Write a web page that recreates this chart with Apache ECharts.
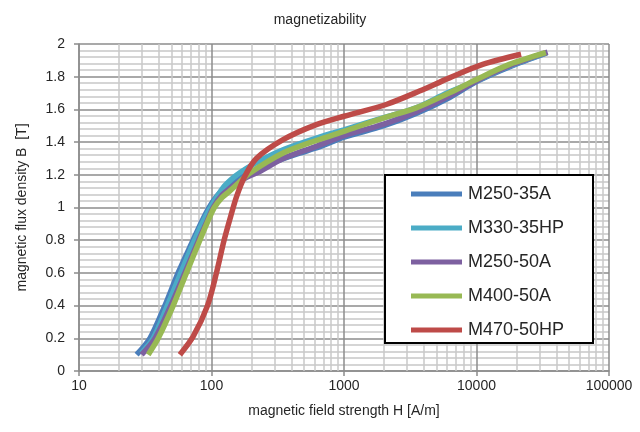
<!DOCTYPE html>
<html>
<head>
<meta charset="utf-8">
<script src="https://cdn.jsdelivr.net/npm/echarts@6/dist/echarts.min.js"></script>
<style>
  html, body { margin: 0; padding: 0; background: #fff; }
  #chart { width: 640px; height: 432px; }
</style>
</head>
<body>
<div id="chart"></div>
<script>
// B-H magnetization curves of electrical steel grades: [H in A/m, B in T]
const seriesNames = ['M250-35A', 'M330-35HP', 'M250-50A', 'M400-50A', 'M470-50HP'];

const m250_35A = [
  [27.2, 0.10], [34.3, 0.20], [44.5, 0.40], [56, 0.60], [72.6, 0.80], [84, 0.91],
  [96, 1.00], [110, 1.07], [130, 1.13], [160, 1.18], [200, 1.22], [300, 1.28],
  [450, 1.33], [650, 1.37], [1000, 1.43], [2000, 1.50], [3500, 1.575], [6000, 1.665],
  [10000, 1.77], [17700, 1.86], [34000, 1.945]
];
const m330_35HP = [
  [29.5, 0.11], [36.3, 0.20], [46.5, 0.40], [58.7, 0.60], [74.6, 0.80], [86.5, 0.914],
  [100, 1.01], [122, 1.12], [150, 1.19], [184, 1.24], [250, 1.30], [350, 1.355],
  [620, 1.425], [1000, 1.475], [2000, 1.55], [3500, 1.61], [6000, 1.70], [10000, 1.775],
  [17700, 1.865], [32000, 1.94]
];
const m250_50A = [
  [29.7, 0.10], [37.5, 0.20], [49.3, 0.40], [63, 0.60], [80, 0.80], [92, 0.91],
  [103, 1.00], [120, 1.075], [145, 1.13], [180, 1.18], [231, 1.22], [347, 1.30],
  [618, 1.374], [1000, 1.44], [2000, 1.51], [3500, 1.585], [6000, 1.675], [10000, 1.775],
  [17700, 1.867], [34400, 1.95]
];
const m400_50A = [
  [33.3, 0.10], [39.6, 0.20], [51.4, 0.40], [64.7, 0.60], [81.7, 0.80], [92, 0.90],
  [105, 1.00], [120, 1.06], [137, 1.10], [160, 1.15], [194, 1.21], [347, 1.333],
  [618, 1.41], [1000, 1.466], [2000, 1.548], [3500, 1.609], [6250, 1.701], [10000, 1.783],
  [17700, 1.875], [33400, 1.947]
];
const m470_50HP = [
  [57.7, 0.10], [72.6, 0.21], [93.3, 0.40], [109, 0.60], [124.5, 0.80], [140, 0.95],
  [155, 1.07], [178, 1.19], [218, 1.30], [347, 1.415], [618, 1.507], [1000, 1.558],
  [2080, 1.63], [3715, 1.712], [6250, 1.793], [11140, 1.875], [21700, 1.937]
];

const seriesData = [m250_35A, m330_35HP, m250_50A, m400_50A, m470_50HP];
const seriesColors = ['#4A7EBB', '#4BACC6', '#7D60A0', '#98B954', '#BE4B48'];

// Intermediate grid values of the logarithmic H axis (2..9 per decade)
const decadeStarts = [10, 100, 1000, 10000];
const minorHValues = [];
decadeStarts.forEach(d => { for (let k = 2; k <= 9; k++) minorHValues.push(d * k); });

const FONT = '"Liberation Sans", Arial, sans-serif';
const TEXT = '#262626';
const MAJOR_GRID = '#8C8C8C';
const MINOR_GRID = '#C8C8C8';

const chart = echarts.init(document.getElementById('chart'), null, { renderer: 'canvas' });

const lineSeries = seriesNames.map((name, i) => ({
  name: name,
  type: 'line',
  data: seriesData[i],
  smooth: 0.3,
  symbol: 'none',
  showSymbol: false,
  z: 3,
  lineStyle: { color: seriesColors[i], width: 5.5 },
  itemStyle: { color: seriesColors[i] },
  emphasis: { disabled: true },
  animation: false
}));

// Light vertical lines at the in-between decade values, kept below the curves
lineSeries.unshift({
  name: 'minor-grid',
  type: 'line',
  data: [],
  z: 1,
  silent: true,
  animation: false,
  markLine: {
    z: 1,
    silent: true,
    symbol: 'none',
    animation: false,
    label: { show: false },
    lineStyle: { color: MINOR_GRID, width: 1.5, type: 'solid' },
    emphasis: { disabled: true },
    data: minorHValues.map(v => ({ xAxis: v }))
  }
});

chart.setOption({
  animation: false,
  backgroundColor: '#ffffff',
  title: {
    text: 'magnetizability',
    left: 'center',
    top: 8,
    textStyle: { fontFamily: FONT, fontSize: 14, fontWeight: 'normal', color: TEXT }
  },
  grid: { left: 79, right: 31, top: 44, bottom: 61, containLabel: false },
  xAxis: {
    type: 'log',
    logBase: 10,
    min: 10,
    max: 100000,
    name: 'magnetic field strength H [A/m]',
    nameLocation: 'middle',
    nameGap: 33,
    nameTextStyle: { fontFamily: FONT, fontSize: 14, color: TEXT },
    axisLine: { show: true, onZero: false, lineStyle: { color: MAJOR_GRID, width: 1.5 } },
    axisTick: { show: true, inside: false, length: 5, lineStyle: { color: MAJOR_GRID, width: 1.5 } },
    axisLabel: { fontFamily: FONT, fontSize: 14, color: TEXT, margin: 8, formatter: v => String(Math.round(v)) },
    splitLine: { show: true, lineStyle: { color: MAJOR_GRID, width: 1.5 } }
  },
  yAxis: {
    type: 'value',
    min: 0,
    max: 2,
    interval: 0.2,
    name: 'magnetic flux density B  [T]',
    nameLocation: 'middle',
    nameGap: 50,
    nameTextStyle: { fontFamily: FONT, fontSize: 14, color: TEXT },
    axisLine: { show: true, lineStyle: { color: MAJOR_GRID, width: 1.5 } },
    axisTick: { show: true, inside: false, length: 5, lineStyle: { color: MAJOR_GRID, width: 1.5 } },
    axisLabel: { fontFamily: FONT, fontSize: 14, color: TEXT, margin: 14 },
    splitLine: { show: true, lineStyle: { color: MAJOR_GRID, width: 1.5 } },
    minorTick: { show: false, splitNumber: 5 },
    minorSplitLine: { show: true, lineStyle: { color: MINOR_GRID, width: 1.5 } }
  },
  legend: {
    data: seriesNames,
    orient: 'vertical',
    left: 411,
    top: 185,
    z: 60,
    icon: 'rect',
    itemWidth: 51,
    itemHeight: 5,
    itemGap: 16,
    padding: 0,
    textStyle: { fontFamily: FONT, fontSize: 18, color: TEXT, padding: [0, 0, 0, 1] },
    selectedMode: false
  },
  graphic: [{
    type: 'rect',
    z: 50,
    silent: true,
    shape: { x: 385, y: 175, width: 208, height: 168 },
    style: { fill: '#ffffff', stroke: '#000000', lineWidth: 2 }
  }],
  series: lineSeries
});
</script>
</body>
</html>
